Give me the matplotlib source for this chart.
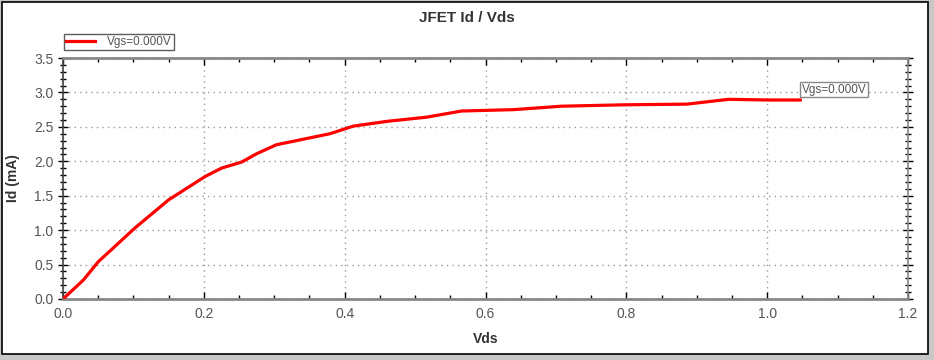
import matplotlib
matplotlib.use("Agg")
import matplotlib.pyplot as plt
from matplotlib.ticker import MultipleLocator, FormatStrFormatter
from matplotlib.patches import Rectangle

plt.rcParams['font.family'] = ['Liberation Sans', 'DejaVu Sans']

vds = [0.0, 0.029, 0.050, 0.102, 0.150, 0.202, 0.225, 0.254, 0.275, 0.303, 0.379,
       0.412, 0.460, 0.516, 0.566, 0.640, 0.708, 0.796, 0.886, 0.945, 1.002, 1.047]
id_ma = [0.0, 0.276, 0.54, 1.03, 1.44, 1.78, 1.90, 1.99, 2.11, 2.24, 2.40,
         2.51, 2.58, 2.64, 2.73, 2.75, 2.80, 2.82, 2.83, 2.90, 2.89, 2.89]
series_label = "Vgs=0.000V"

fig = plt.figure(figsize=(9.34, 3.60), dpi=100)
fig.patch.set_facecolor('#c8c8c8')
fig.add_artist(Rectangle((2/934, 6/360), 926/934, 352/360, transform=fig.transFigure,
                         facecolor='white', edgecolor='black', linewidth=1.2, zorder=-10))

ax = fig.add_axes([63/934, 1 - 299/360, 845/934, 241/360])
ax.plot(vds, id_ma, color='#ff0000', linewidth=2.3, label=series_label, zorder=3)
ax.set_xlim(0, 1.2)
ax.set_ylim(0, 3.5)
ax.xaxis.set_major_locator(MultipleLocator(0.2))
ax.xaxis.set_minor_locator(MultipleLocator(0.05))
ax.yaxis.set_major_locator(MultipleLocator(0.5))
ax.yaxis.set_minor_locator(MultipleLocator(0.1))
ax.tick_params(which='both', top=True, right=True, color='black',
               labelcolor='#555555', labelsize=10)
ax.tick_params(axis='x', which='both', direction='in')
ax.tick_params(axis='y', which='both', direction='inout')
ax.tick_params(axis='x', which='major', length=5, width=1, pad=6)
ax.tick_params(axis='x', which='minor', length=3, width=1)
ax.tick_params(axis='y', which='major', length=7, width=1)
ax.tick_params(axis='y', which='minor', length=5, width=1)
ax.xaxis.set_major_formatter(FormatStrFormatter('%.1f'))
ax.yaxis.set_major_formatter(FormatStrFormatter('%.1f'))
ax.grid(True, which='major', linestyle=(0, (1, 3)), color='#999999', linewidth=1)
for side, s in ax.spines.items():
    s.set_color('#888888')
    s.set_linewidth(2 if side in ('top', 'bottom') else 1.2)
ax.spines['left'].set_color('#444444')

fig.text(0.5, 1 - 18/360, "JFET Id / Vds", fontsize=11, fontweight='bold', color='#333333',
         ha='center', va='center')
ax.set_xlabel("Vds", fontsize=10, fontweight='bold', color='#333333', labelpad=8)
ax.set_ylabel("Id (mA)", fontsize=10, fontweight='bold', color='#333333', labelpad=10)

leg = ax.legend(loc='lower left', bbox_to_anchor=(1/845, 1 + 8/241), frameon=True, fancybox=False,
                fontsize=8.5, handlelength=2.5, borderpad=0.15, borderaxespad=0.0,
                handletextpad=1.0, labelcolor='#555555')
leg.get_frame().set_edgecolor('#333333')
leg.get_frame().set_linewidth(1)

ax.annotate(series_label, xy=(vds[-1], id_ma[-1]), xytext=(1, 3), textcoords='offset points',
            fontsize=8.5, color='#555555', va='bottom', ha='left',
            bbox=dict(boxstyle='square,pad=0.12', facecolor='white', edgecolor='#888888', linewidth=1))

fig.savefig("out.png", dpi=100, facecolor=fig.get_facecolor())
